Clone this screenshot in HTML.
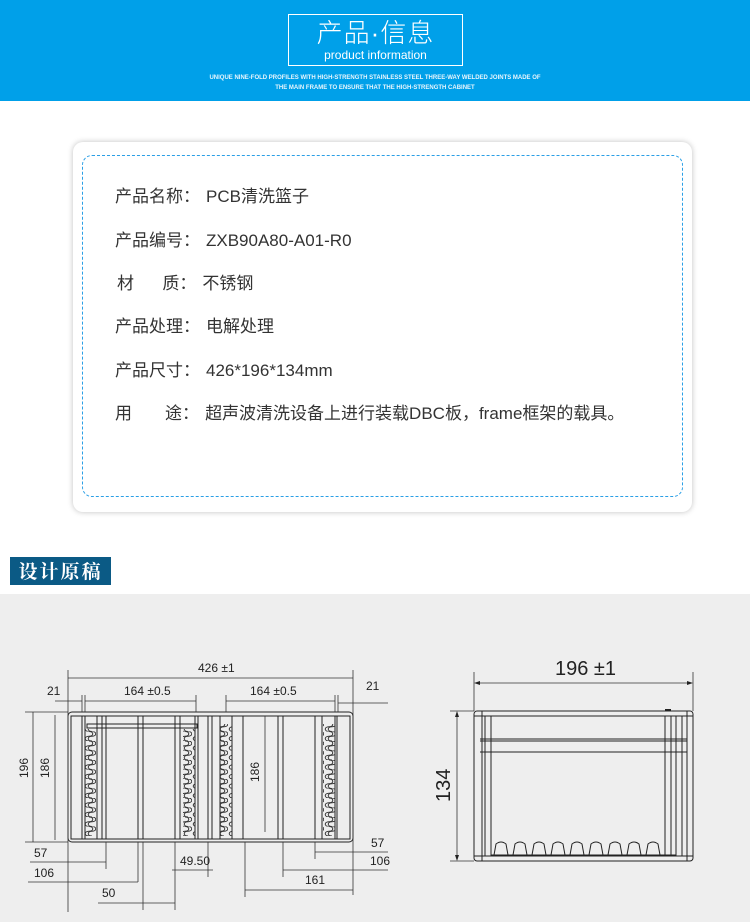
<!DOCTYPE html>
<html><head><meta charset="utf-8"><style>
*{margin:0;padding:0}
body{width:750px;height:922px;position:relative;background:#fff;font-family:"Liberation Sans","Noto Sans CJK SC",sans-serif;overflow:hidden}
.hd{position:absolute;left:0;top:0;width:750px;height:101px;background:#00a0e9}
.tb{position:absolute;left:288px;top:14px;width:173px;height:50px;border:1px solid #fff;color:#fff;text-align:center}
.t1{font-size:26px;line-height:30px;margin-top:3px;letter-spacing:1px;font-weight:300}
.t2{font-size:12px;line-height:14px}
.sub{position:absolute;left:0;width:750px;text-align:center;color:#e8f6fd;font-size:6px;font-weight:bold}
.card{position:absolute;left:73px;top:142px;width:619px;height:370px;border-radius:10px;background:#fff;box-shadow:0 0 6px rgba(0,0,0,.25)}
.dash{position:absolute;left:82px;top:155px;width:599px;height:340px;border:1.5px dashed #2a9fe6;border-radius:10px}
.ln{position:absolute;left:115px;font-size:17px;color:#333;white-space:nowrap;line-height:20px}
.ln b{font-weight:normal;margin-right:6px}
.lab{position:absolute;left:10px;top:557px;width:101px;height:28px;background:#0b5a85;color:#fff;font-family:"Noto Serif CJK SC",serif;font-size:19px;line-height:28px;text-align:center;font-weight:bold;letter-spacing:2px}
.gray{position:absolute;left:0;top:594px;width:750px;height:328px;background:#eeeeee}
svg{position:absolute;left:0;top:0}
</style></head><body>
<div class="hd"></div>
<div class="tb"><div class="t1">产品·信息</div><div class="t2">product information</div></div>
<div class="sub" style="top:75px">UNIQUE NINE-FOLD PROFILES WITH HIGH-STRENGTH STAINLESS STEEL THREE-WAY WELDED JOINTS MADE OF</div>
<div class="sub" style="top:85px">THE MAIN FRAME TO ENSURE THAT THE HIGH-STRENGTH CABINET</div>
<div class="card"></div><div class="dash"></div>
<div class="ln" style="top:187px"><b>产品名称：</b>PCB清洗篮子</div>
<div class="ln" style="top:231px"><b>产品编号：</b>ZXB90A80-A01-R0</div>
<div class="ln" style="top:274px;left:117px"><b>材&nbsp;&nbsp;&nbsp;&nbsp;&nbsp;&nbsp;质：</b>不锈钢</div>
<div class="ln" style="top:317px"><b>产品处理：</b>电解处理</div>
<div class="ln" style="top:361px"><b>产品尺寸：</b>426*196*134mm</div>
<div class="ln" style="top:404px"><b>用&nbsp;&nbsp;&nbsp;&nbsp;&nbsp;&nbsp;&nbsp;途：</b>超声波清洗设备上进行装载DBC板，frame框架的载具。</div>
<div class="lab">设计原稿</div>
<div class="gray"></div>
<svg width="750" height="922" viewBox="0 0 750 922">
<defs>
<pattern id="wv" width="12" height="9.5" patternUnits="userSpaceOnUse" y="722">
<path d="M5 0 C10 0 10 4.75 5 4.75 C0 4.75 0 9.5 5 9.5" fill="none" stroke="#333" stroke-width="1"/>
<path d="M8 0 C13 0 13 4.75 8 4.75 C3 4.75 3 9.5 8 9.5" fill="none" stroke="#333" stroke-width="1"/>
</pattern>
</defs>
<g fill="none" stroke="#222" stroke-width="1">
<rect x="68" y="712" width="285" height="130" rx="4"/>
<rect x="71" y="716" width="279" height="123"/>
<g>
<line x1="82" y1="716" x2="82" y2="839"/><line x1="85" y1="716" x2="85" y2="839"/>
<line x1="97" y1="716" x2="97" y2="839"/><line x1="102" y1="716" x2="102" y2="839"/><line x1="106" y1="716" x2="106" y2="839"/>
<line x1="138" y1="716" x2="138" y2="839"/><line x1="143" y1="716" x2="143" y2="839"/>
<line x1="175" y1="716" x2="175" y2="839"/><line x1="180" y1="716" x2="180" y2="839"/>
<line x1="195" y1="716" x2="195" y2="839"/><line x1="198" y1="716" x2="198" y2="839"/>
<line x1="208" y1="716" x2="208" y2="839"/><line x1="212" y1="716" x2="212" y2="839"/>
<line x1="220" y1="716" x2="220" y2="839"/><line x1="232" y1="716" x2="232" y2="839"/>
<line x1="243" y1="716" x2="243" y2="839"/><line x1="278" y1="716" x2="278" y2="839"/><line x1="283" y1="716" x2="283" y2="839"/>
<line x1="315" y1="716" x2="315" y2="839"/><line x1="322" y1="716" x2="322" y2="839"/>
<line x1="335" y1="716" x2="335" y2="839"/><line x1="337" y1="716" x2="337" y2="839"/>
<rect x="87" y="724" width="110" height="4"/>
</g>
</g>
<rect x="85" y="729" width="12" height="107" fill="url(#wv)"/>
<rect x="183" y="729" width="12" height="107" fill="url(#wv)"/>
<rect x="220" y="724" width="12" height="112" fill="url(#wv)"/>
<rect x="323" y="724" width="12" height="112" fill="url(#wv)"/>
<g stroke="#333" stroke-width="0.8" fill="none">
<line x1="68" y1="670" x2="68" y2="912"/><line x1="353" y1="670" x2="353" y2="895"/>
<line x1="68" y1="678" x2="353" y2="678"/>
<line x1="82" y1="695" x2="82" y2="712"/><line x1="85" y1="695" x2="85" y2="712"/>
<line x1="196" y1="695" x2="196" y2="712"/><line x1="226" y1="695" x2="226" y2="712"/>
<line x1="335" y1="695" x2="335" y2="712"/><line x1="338" y1="695" x2="338" y2="712"/>
<line x1="85" y1="701" x2="196" y2="701"/><line x1="226" y1="701" x2="335" y2="701"/>
<line x1="55" y1="701" x2="82" y2="701"/><line x1="338" y1="703" x2="388" y2="703"/>
<line x1="25" y1="712" x2="68" y2="712"/><line x1="25" y1="842" x2="68" y2="842"/>
<line x1="33" y1="712" x2="33" y2="842"/><line x1="55" y1="715" x2="55" y2="840"/>
<line x1="265" y1="716" x2="265" y2="832"/>
<line x1="30" y1="862" x2="106" y2="862"/><line x1="106" y1="842" x2="106" y2="869"/>
<line x1="28" y1="882" x2="138" y2="882"/><line x1="138" y1="842" x2="138" y2="882"/>
<line x1="143" y1="842" x2="143" y2="910"/><line x1="175" y1="842" x2="175" y2="910"/>
<line x1="98" y1="903" x2="175" y2="903"/>
<line x1="172" y1="870" x2="213" y2="870"/><line x1="208" y1="842" x2="208" y2="877"/>
<line x1="315" y1="852" x2="388" y2="852"/><line x1="315" y1="842" x2="315" y2="859"/>
<line x1="283" y1="870" x2="388" y2="870"/><line x1="283" y1="842" x2="283" y2="877"/>
<line x1="245" y1="890" x2="353" y2="890"/><line x1="245" y1="842" x2="245" y2="897"/>
</g>
<g font-family="Liberation Sans Narrow,Liberation Sans,sans-serif" font-size="12" fill="#222">
<text x="198" y="672">426 ±1</text>
<text x="47" y="695">21</text>
<text x="124" y="695">164 ±0.5</text>
<text x="250" y="695">164 ±0.5</text>
<text x="366" y="690">21</text>
<text x="34" y="857">57</text>
<text x="34" y="877">106</text>
<text x="102" y="897">50</text>
<text x="180" y="865">49.50</text>
<text x="371" y="847">57</text>
<text x="370" y="865">106</text>
<text x="305" y="884">161</text>
<text transform="translate(28,778) rotate(-90)">196</text>
<text transform="translate(49,778) rotate(-90)">186</text>
<text transform="translate(259,782) rotate(-90)">186</text>
</g>
<g fill="none" stroke="#222" stroke-width="1">
<rect x="474" y="711" width="219" height="150" rx="3"/>
<line x1="474" y1="716" x2="693" y2="716"/><line x1="474" y1="856" x2="693" y2="856"/>
<line x1="482" y1="711" x2="482" y2="861"/><line x1="485" y1="716" x2="485" y2="856"/><line x1="491" y1="716" x2="491" y2="856"/>
<line x1="665" y1="716" x2="665" y2="856"/><line x1="671" y1="716" x2="671" y2="856"/><line x1="676" y1="716" x2="676" y2="856"/>
<line x1="682" y1="716" x2="682" y2="856"/><line x1="687" y1="711" x2="687" y2="861"/>
<rect x="491" y="716" width="185" height="139"/>
<line x1="480" y1="739" x2="687" y2="739"/><line x1="480" y1="741" x2="687" y2="741"/><line x1="480" y1="752" x2="687" y2="752"/>
<path d="M494 855 L496 844 Q501 840 506 844 L508 855 M513 855 L515 844 Q520 840 525 844 L527 855 M532 855 L534 844 Q539 840 544 844 L546 855 M551 855 L553 844 Q558 840 563 844 L565 855 M570 855 L572 844 Q577 840 582 844 L584 855 M589 855 L591 844 Q596 840 601 844 L603 855 M608 855 L610 844 Q615 840 620 844 L622 855 M627 855 L629 844 Q634 840 639 844 L641 855 M646 855 L648 844 Q653 840 658 844 L660 855"/>
</g>
<g stroke="#333" stroke-width="0.8" fill="none">
<line x1="474" y1="672" x2="474" y2="711"/><line x1="693" y1="672" x2="693" y2="711"/>
<line x1="476" y1="683" x2="691" y2="683"/>
<line x1="450" y1="711" x2="474" y2="711"/><line x1="450" y1="861" x2="474" y2="861"/>
<line x1="457" y1="713" x2="457" y2="859"/>
</g>
<g fill="#222"><path d="M474 683 l6 -2 v4z M693 683 l-6 -2 v4z M457 711 l-2 6 h4z M457 861 l-2 -6 h4z"/></g>
<rect x="665" y="709" width="6" height="2" fill="#222"/>
<g font-family="Liberation Sans Narrow,Liberation Sans,sans-serif" font-size="20" fill="#222">
<text x="555" y="675">196 ±1</text>
<text transform="translate(450,802) rotate(-90)">134</text>
</g>
</svg>
</body></html>
